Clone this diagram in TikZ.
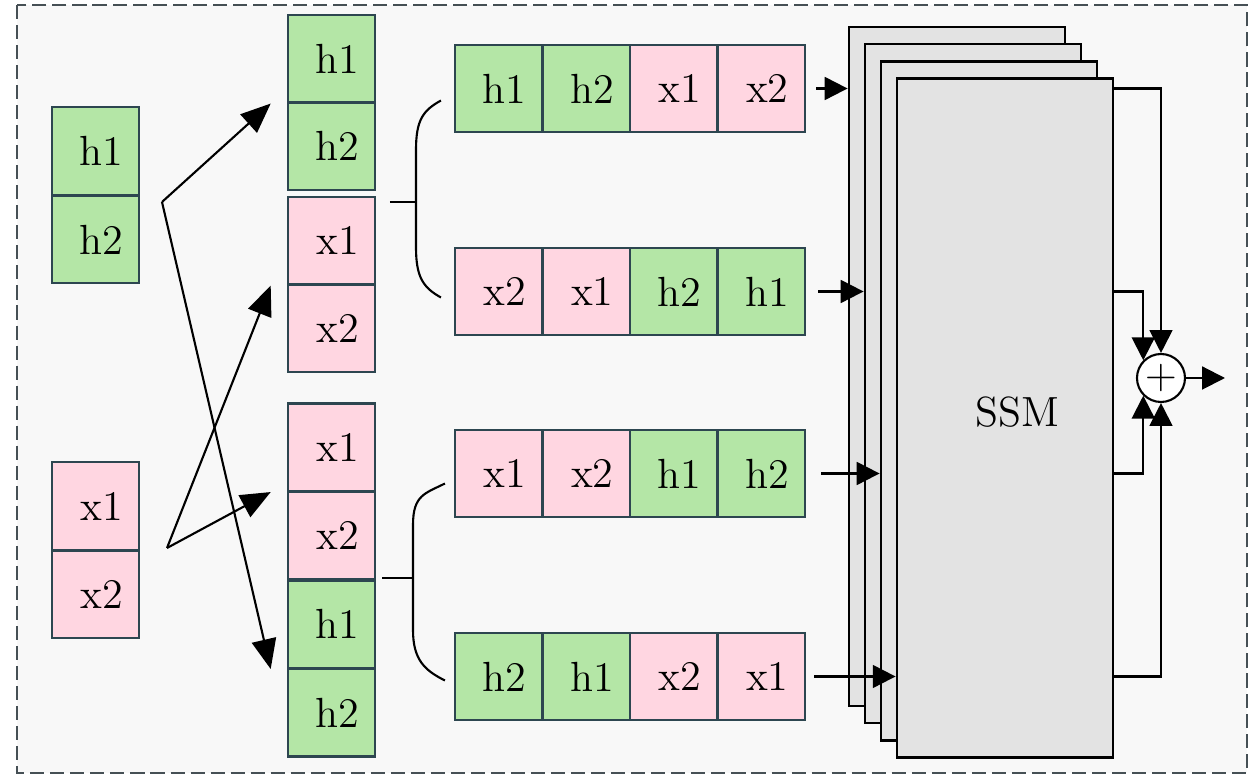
\documentclass[tikz,border=0pt,12pt]{standalone}
\usepackage{tikz}
\usetikzlibrary{arrows.meta,positioning,calc}

\definecolor{cellgreen}{RGB}{180,230,166}
\definecolor{cellpink}{RGB}{255,214,225}
\definecolor{cellline}{RGB}{45,70,80}
\definecolor{stackgray}{RGB}{227,227,227}
\definecolor{panelgray}{RGB}{248,248,248}
\definecolor{frameline}{RGB}{70,80,85}

\tikzset{
  cell/.style={draw=cellline, line width=0.6pt, minimum width=0.875cm, minimum height=0.875cm, inner sep=0pt,
    execute at begin node=\hspace{1.2mm}},
  cellh/.style={cell, fill=cellgreen},
  cellx/.style={cell, fill=cellpink},
  ssmlayer/.style={draw, line width=0.8pt, fill=stackgray, minimum width=2.16cm, minimum height=6.79cm},
  arr/.style={-{Triangle[length=6.5pt,width=6.5pt]}, line width=0.6pt},
  bigarr/.style={-{Triangle[length=8.5pt,width=7pt]}, line width=0.6pt},
  sumnode/.style={circle, draw, line width=0.6pt, fill=white, minimum size=0.48cm, inner sep=0pt}
}

\begin{document}
\begin{tikzpicture}
  \useasboundingbox (0,0) rectangle (12.6,-7.8);
  \draw[frameline, fill=panelgray, line width=0.6pt, dash pattern=on 4pt off 1.7pt] (0.17,-0.05) rectangle (12.47,-7.73);

  % input blocks
  \foreach \n [count=\k] in {1,2}
    \node[cellh] (lh\k) at (0.955,{-1.51-0.885*(\k-1)}) {h\n};
  \foreach \n [count=\k] in {1,2}
    \node[cellx] (lx\k) at (0.955,{-5.06-0.885*(\k-1)}) {x\n};

  % stacked columns
  \node[cellh] (mt1) at (3.315,-0.5875) {h1};
  \node[cellh] (mt2) at (3.315,-1.4625) {h2};
  \node[cellx] (mt3) at (3.315,-2.4075) {x1};
  \node[cellx] (mt4) at (3.315,-3.2825) {x2};
  \foreach \t/\n [count=\k] in {x/1,x/2,h/1,h/2}
    \node[cell\t] (mb\k) at (3.315,{-4.4725-0.885*(\k-1)}) {\t\n};

  % sequences
  \foreach \t/\n [count=\k] in {h/1,h/2,x/1,x/2}
    \node[cell\t] (r1c\k) at ({4.9875+0.875*(\k-1)},-0.885) {\t\n};
  \foreach \t/\n [count=\k] in {x/2,x/1,h/2,h/1}
    \node[cell\t] (r2c\k) at ({4.9875+0.875*(\k-1)},-2.915) {\t\n};
  \foreach \t/\n [count=\k] in {x/1,x/2,h/1,h/2}
    \node[cell\t] (r3c\k) at ({4.9875+0.875*(\k-1)},-4.735) {\t\n};
  \foreach \t/\n [count=\k] in {h/2,h/1,x/2,x/1}
    \node[cell\t] (r4c\k) at ({4.9875+0.875*(\k-1)},-6.765) {\t\n};

  % SSM stack, back to front
  \foreach \k in {1,...,4}
    \node[ssmlayer] (ssm\k) at ({9.57+0.16*(\k-1)},{-3.665-0.171*(\k-1)}) {};
  \node at (10.17,-4.12) {SSM};

  \node[sumnode] (sum) at (11.61,-3.78) {$+$};
  \coordinate (out) at (12.25,-3.78);

  % split and cross
  \coordinate (hfork) at (1.62,-2.02);
  \coordinate (xfork) at (1.67,-5.48);
  \draw[bigarr] (hfork) -- ([xshift=-1.6mm]mt1.south west);
  \draw[bigarr] (hfork) -- ([xshift=-1.6mm]mb3.south west);
  \draw[bigarr] (xfork) -- ([xshift=-1.6mm]mt3.south west);
  \draw[bigarr] (xfork) -- ([xshift=-1.6mm]mb1.south west);

  % brackets
  \coordinate (tb) at (4.16,-2.02);
  \coordinate (bb) at (4.13,-5.78);
  \draw[line width=0.6pt] (3.90,-2.02) -- (tb);
  \draw[line width=0.6pt] ([xshift=-1.3mm,yshift=-1.2mm]r1c1.west) .. controls +(-0.18,-0.1) and +(0,0.3) .. (4.16,-1.5)
    -- (4.16,-2.47) .. controls +(0,-0.3) and +(-0.18,0.1) .. ([xshift=-1.3mm,yshift=-0.6mm]r2c1.west);
  \draw[line width=0.6pt] (3.82,-5.78) -- (bb);
  \draw[line width=0.6pt] ([xshift=-0.9mm,yshift=-1mm]r3c1.west) .. controls +(-0.2,-0.1) and +(0,0.3) .. (4.13,-5.25)
    -- (4.13,-6.3) .. controls +(0,-0.3) and +(-0.2,0.1) .. ([xshift=-0.9mm,yshift=-0.4mm]r4c1.west);

  % into SSM
  \draw[arr] ([xshift=1mm]r1c4.east) -- (ssm1.west |- r1c4);
  \draw[arr] ([xshift=1.2mm]r2c4.east) -- (ssm2.west |- r2c4);
  \draw[arr] ([xshift=1.5mm]r3c4.east) -- (ssm3.west |- r3c4);
  \draw[arr] ([xshift=0.8mm]r4c4.east) -- (ssm4.west |- r4c4);

  % merge
  \draw[arr] (ssm4.east |- r1c4) -| (sum.north);
  \draw[arr] (ssm4.east |- r2c4) -| (sum.north west);
  \draw[arr] (ssm4.east |- r3c4) -| (sum.south west);
  \draw[arr] (ssm4.east |- r4c4) -| (sum.south);
  \draw[arr] (sum.east) -- (out);
\end{tikzpicture}
\end{document}
